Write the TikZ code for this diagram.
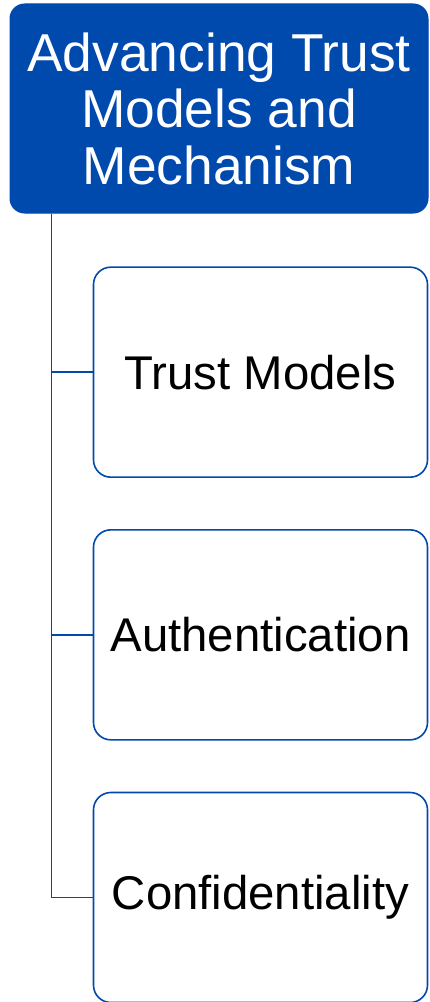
\documentclass[tikz,border=0pt]{standalone}
\usepackage{fontspec}
\setmainfont{Liberation Sans}
\usetikzlibrary{positioning}

\definecolor{trustblue}{RGB}{0,73,173}

\tikzset{
  headbox/.style={draw=trustblue,fill=trustblue,text=white,rounded corners=11pt,
    line width=0.75pt,minimum width=313.5pt,minimum height=156.75pt,inner sep=0pt,
    align=center,font=\fontsize{40}{42.4}\selectfont},
  itembox/.style={draw=trustblue,fill=white,rounded corners=13pt,line width=1.2pt,
    outer sep=0pt,minimum width=250.5pt,minimum height=157.5pt,inner sep=0pt,
    align=center,font=\fontsize{35.5}{40}\selectfont},
  conn/.style={draw=trustblue,line width=1.2pt}
}

\begin{document}
\begin{tikzpicture}[node distance=39.5pt]
  \useasboundingbox (0,0) rectangle (321.75pt,-751.5pt);

  \node[headbox] (title) at (164.25pt,-81.375pt)
    {Advancing Trust\\Models and\\Mechanism};
  \node[itembox] (t1) [below right=40.25pt and 63pt of title.south west] {Trust Models};
  \node[itembox] (t2) [below=of t1] {Authentication};
  \node[itembox] (t3) [below=of t2] {Confidentiality};

  \coordinate (trunk) at ([xshift=31.5pt]title.south west);
  \foreach \c in {t1,t2,t3}
    \draw[conn] (trunk) |- (\c.west);
\end{tikzpicture}
\end{document}
